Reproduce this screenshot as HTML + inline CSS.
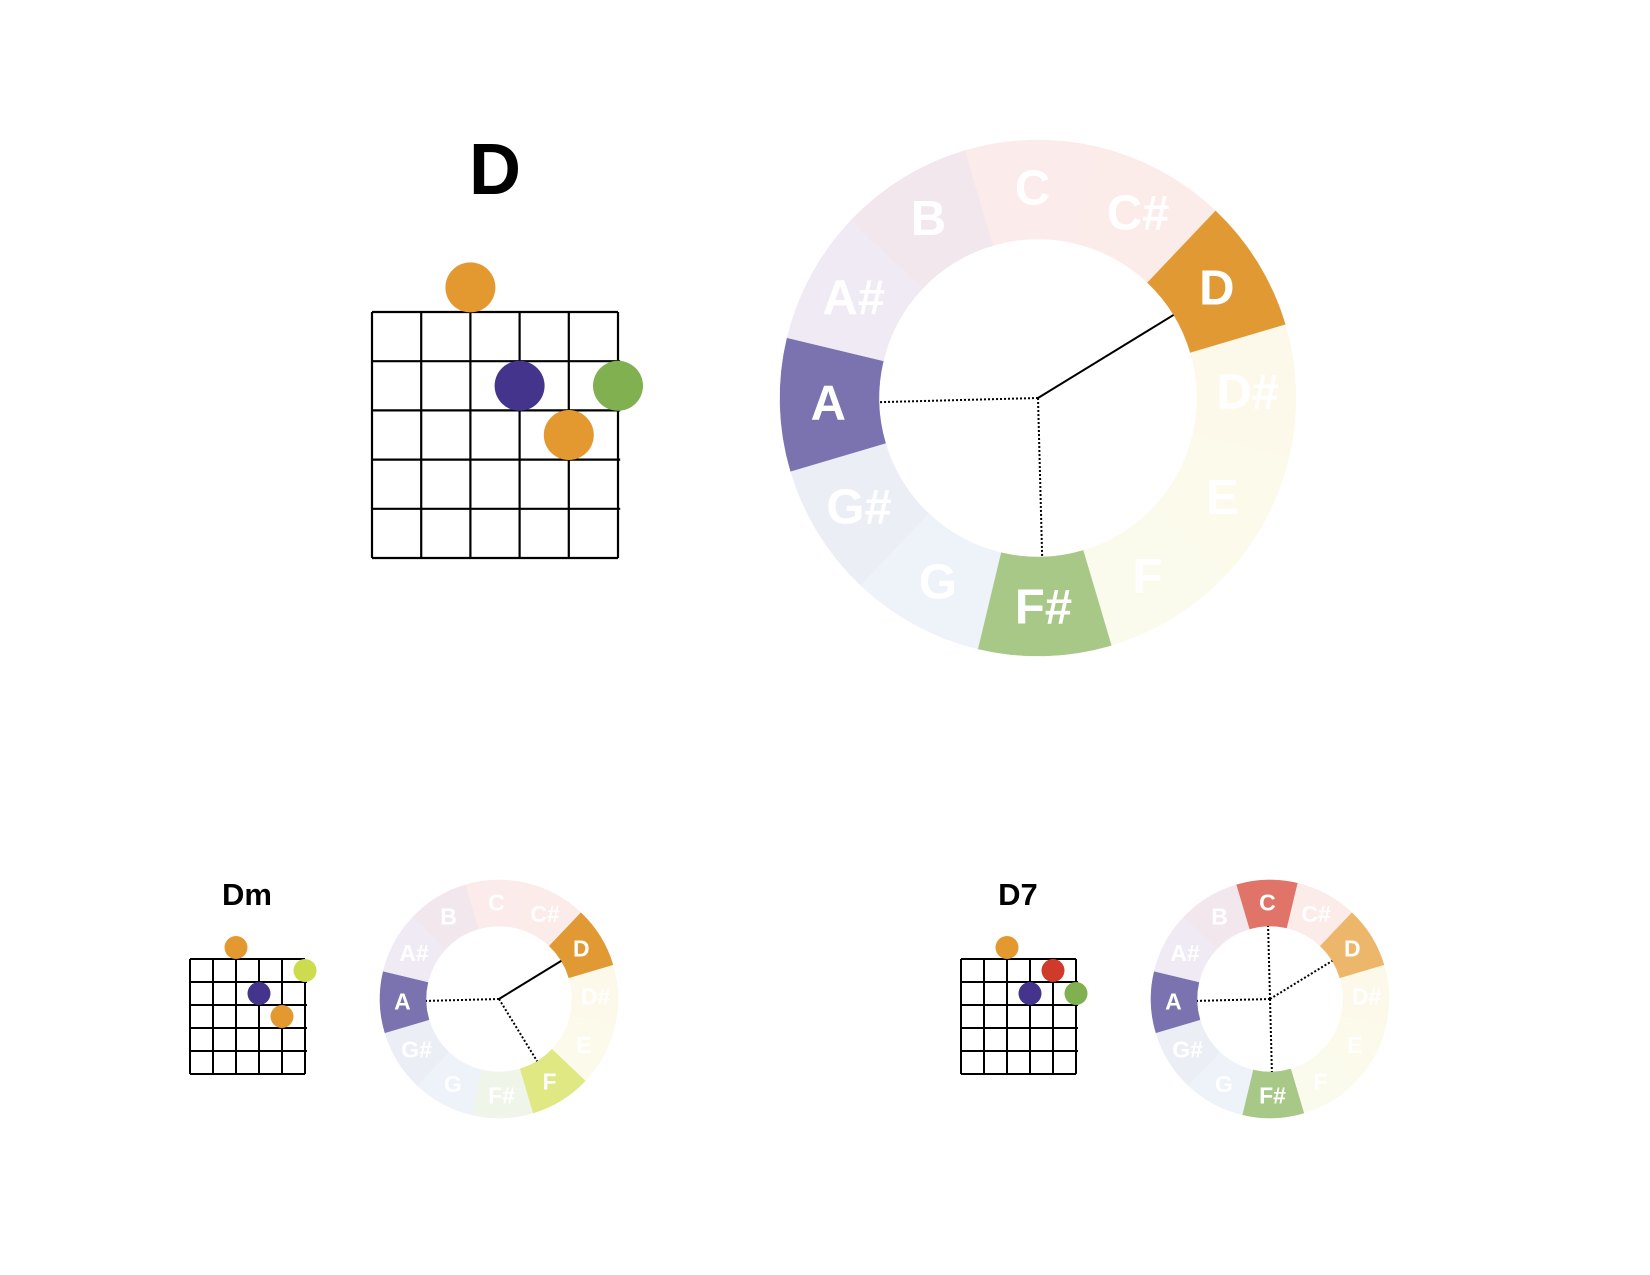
<!DOCTYPE html>
<html><head><meta charset="utf-8"><style>
html,body{margin:0;padding:0;background:#fff;width:1650px;height:1275px;overflow:hidden}
svg{display:block}
text{font-family:"Liberation Sans",sans-serif;font-weight:bold}
</style></head><body>
<svg id="root" width="1650" height="1275" viewBox="0 0 1650 1275"></svg>
<script>
const notes = ["C","C#","D","D#","E","F","F#","G","G#","A","A#","B"];
const lightColors = ["#fbeceb","#fbecea","#fcf1e2","#fdf9ea","#fcfbeb","#fbfbed","#f0f5ea","#eef2f9","#eceef6","#eeecf5","#f0eaf4","#f3e7ee"];
// chord D
const dTitle = "D";
const dDots = [[3,0,"#e3992f"],[4,2,"#45348b"],[6,2,"#80b04f"],[5,3,"#e3992f"]];
const dHighlight = [["D","#e19a33"],["F#","#a8c888"],["A","#7b72b0"]];
const dLines = [["D","solid"],["A","dot"],["F#","dot"]];
// chord Dm
const dmTitle = "Dm";
const dmDots = [[3,0,"#e3992f"],[6,1,"#cddc4f"],[4,2,"#45348b"],[5,3,"#e3992f"]];
const dmHighlight = [["D","#e19a33"],["F","#dfe882"],["A","#7b72b0"]];
const dmLines = [["D","solid"],["A","dot"],["F","dot"]];
// chord D7
const d7Title = "D7";
const d7Dots = [[3,0,"#e3992f"],[5,1,"#d03a2a"],[4,2,"#45348b"],[6,2,"#80b04f"]];
const d7Highlight = [["C","#e07468"],["D","#ecb66b"],["F#","#a8c888"],["A","#7b72b0"]];
const d7Lines = [["C","dot"],["D","dot"],["A","dot"],["F#","dot"]];

const NS="http://www.w3.org/2000/svg";
const root=document.getElementById('root');
function mk(tag,attrs,parent){const e=document.createElementNS(NS,tag);for(const k in attrs)e.setAttribute(k,attrs[k]);(parent||root).appendChild(e);return e;}

function fretboard(name,x0,y0,sp,title,tx,ty,fs,dots,dotR,sw){
  const g=mk('g',{});
  
  
  const t=mk('text',{x:tx,y:ty,'font-size':fs,'text-anchor':'middle',fill:'#000'},g);
  t.textContent=title;
  
  
  const w=sp*5,h=sp*5;
  for(let i=0;i<6;i++){
    const l=mk('line',{x1:x0+i*sp,y1:y0,x2:x0+i*sp,y2:y0+h,stroke:'#000','stroke-width':sw},g);
    
    
  }
  for(let j=0;j<6;j++){
    const ext=(j>0&&j<5)?sw:0;
    const l=mk('line',{x1:x0,y1:y0+j*sp,x2:x0+w+ext,y2:y0+j*sp,stroke:'#000','stroke-width':sw},g);
    
    
  }
  dots.forEach(d=>{
    const c=mk('circle',{cx:x0+(d[0]-1)*sp,cy:y0+(d[1]-0.5)*sp,r:dotR,fill:d[2]},g);
    
    
  });
}

function wheel(name,cx,cy,ro,ri,fs,hl,lines,sw){
  const g=mk('g',{});
  
  
  const rot=-1.5;
  const ang=i=>(-90+i*30+rot)*Math.PI/180;
  const hmap={};hl.forEach(h=>hmap[h[0]]=h[1]);
  notes.forEach((n,i)=>{
    const a0=ang(i-0.5),a1=ang(i+0.5);
    const p=(r,a)=>(cx+r*Math.cos(a)).toFixed(2)+','+(cy+r*Math.sin(a)).toFixed(2);
    const d='M'+p(ro,a0)+' A'+ro+','+ro+' 0 0 1 '+p(ro,a1)+' L'+p(ri,a1)+' A'+ri+','+ri+' 0 0 0 '+p(ri,a0)+'Z';
    const s=mk('path',{d:d,fill:hmap[n]||lightColors[i],stroke:hmap[n]||lightColors[i],'stroke-width':0.5},g);
    
    
    const rm=(ro+ri)/2+ro*0.005;
    const t=mk('text',{x:cx+rm*Math.cos(ang(i)),y:cy+rm*Math.sin(ang(i)),'font-size':fs,'text-anchor':'middle','dominant-baseline':'central',fill:'#fff'},g);
    t.textContent=n;
    
    
  });
  lines.forEach(l=>{
    const i=notes.indexOf(l[0]);
    const a=ang(i);
    const attrs={x1:cx,y1:cy,x2:cx+ri*Math.cos(a),y2:cy+ri*Math.sin(a),stroke:'#000','stroke-width':sw};
    if(l[1]==='dot')attrs['stroke-dasharray']=(sw)+','+(sw);
    const e=mk('line',attrs,g);
    
    
  });
}

fretboard('d',372,312,49.2,dTitle,495,194,72,dDots,25,2.2);
wheel('d',1038,398,258,159,49,dHighlight,dLines,2);

fretboard('dm',190,959,23,dmTitle,247,905,31,dmDots,11.5,2);
wheel('dm',499,999,119,73,23,dmHighlight,dmLines,2);

fretboard('d7',961,959,23,d7Title,1018,905,31,d7Dots,11.5,2);
wheel('d7',1270,999,119,73,23,d7Highlight,d7Lines,2);
</script>
</body></html>
